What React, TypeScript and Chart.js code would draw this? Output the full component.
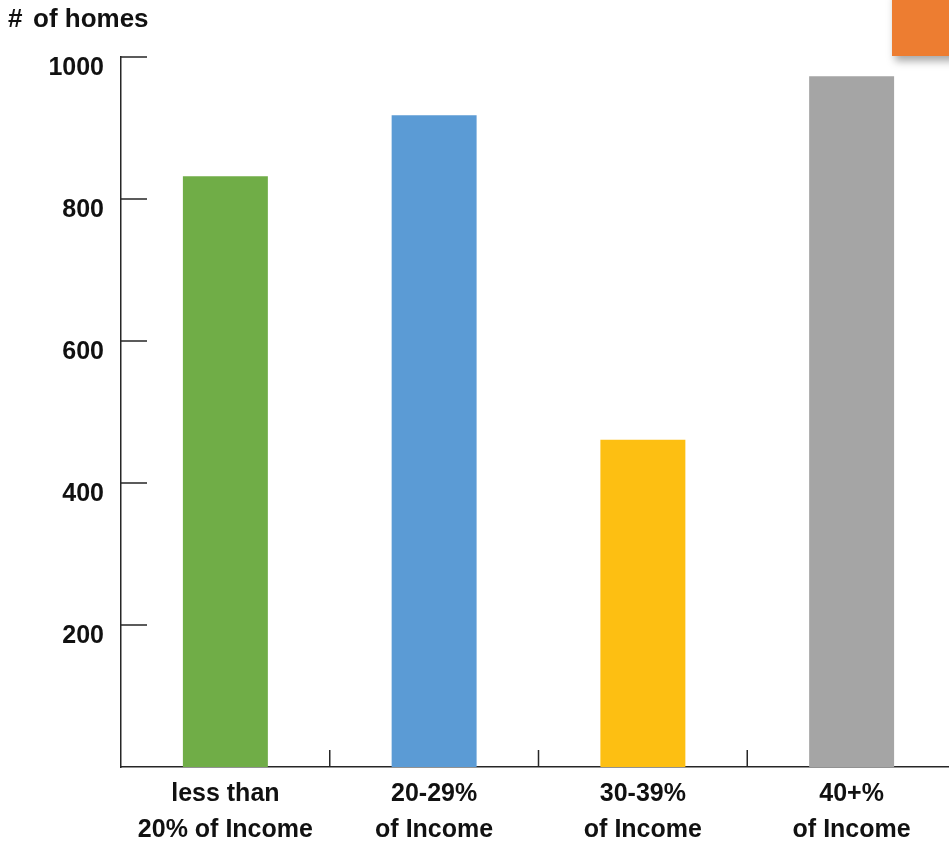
import React, { useEffect, useRef } from "react";
import { Chart, registerables } from "chart.js";

Chart.register(...registerables);

// Housing cost burden: number of homes by share of income spent on housing
const categories: string[][] = [
  ["less than", "20% of Income"],
  ["20-29%", "of Income"],
  ["30-39%", "of Income"],
  ["40+%", "of Income"],
];
const homes: number[] = [832, 918, 461, 973];
const barColors: string[] = ["#70AD47", "#5B9BD5", "#FDBF12", "#A5A5A5"];
const yTicks: number[] = [200, 400, 600, 800, 1000];
const axisTitle = "# of homes";

const FONT = "'Liberation Sans', Arial, sans-serif";
const AXIS_COLOR = "#262626";

// Inward tick marks on both axes, the axis title and the orange marker box.
const decorations = {
  id: "decorations",
  afterDraw(chart: Chart) {
    const ctx = chart.ctx;
    const area = chart.chartArea;
    const x = chart.scales.x;
    const y = chart.scales.y;
    ctx.save();
    ctx.strokeStyle = AXIS_COLOR;
    ctx.lineWidth = 1.5;
    ctx.beginPath();
    for (const v of yTicks) {
      const py = y.getPixelForValue(v);
      ctx.moveTo(area.left, py);
      ctx.lineTo(area.left + 26, py);
    }
    for (let i = 1; i < categories.length; i++) {
      const px = (x.getPixelForValue(i - 1) + x.getPixelForValue(i)) / 2;
      ctx.moveTo(px, area.bottom);
      ctx.lineTo(px, area.bottom - 17);
    }
    ctx.stroke();

    ctx.fillStyle = "#111";
    ctx.font = `bold 26px ${FONT}`;
    ctx.textAlign = "left";
    ctx.textBaseline = "middle";
    ctx.fillText("#", 8, 20);
    ctx.fillText(axisTitle.slice(1).trim(), 33, 20);

    ctx.shadowColor = "rgba(0,0,0,0.35)";
    ctx.shadowBlur = 8;
    ctx.shadowOffsetX = 3;
    ctx.shadowOffsetY = 5;
    ctx.fillStyle = "#ED7D31";
    ctx.fillRect(892, -10, 70, 66);
    ctx.restore();
  },
};

export default function App() {
  const canvasRef = useRef<HTMLCanvasElement | null>(null);

  useEffect(() => {
    document.body.style.margin = "0";
    const canvas = canvasRef.current;
    if (!canvas) return;
    const chart = new Chart(canvas, {
      type: "bar",
      data: {
        labels: categories,
        datasets: [
          {
            data: homes,
            backgroundColor: barColors,
            borderWidth: 0,
            barPercentage: 0.407,
            categoryPercentage: 1,
          },
        ],
      },
      options: {
        responsive: false,
        animation: false,
        layout: { padding: { top: 57, left: 0, right: 0, bottom: 0 } },
        plugins: {
          legend: { display: false },
          tooltip: { enabled: false },
        },
        scales: {
          x: {
            grid: { display: false, drawTicks: false },
            border: { display: true, color: AXIS_COLOR, width: 1.5 },
            ticks: {
              color: "#111",
              padding: 9,
              maxRotation: 0,
              autoSkip: false,
              font: { family: FONT, size: 25, weight: "bold", lineHeight: 1.44 },
            },
            afterFit(scale: any) {
              scale.height = 75;
            },
          },
          y: {
            min: 0,
            max: 1000,
            grid: { display: false, drawTicks: false },
            border: { display: true, color: AXIS_COLOR, width: 1.5 },
            ticks: {
              stepSize: 200,
              padding: 17,
              labelOffset: 11,
              color: "#111",
              font: { family: FONT, size: 25, weight: "bold" },
              callback: (v: any) => (yTicks.includes(Number(v)) ? String(v) : ""),
            },
            afterFit(scale: any) {
              scale.width = 121;
            },
          },
        },
      },
      plugins: [decorations],
    });
    return () => chart.destroy();
  }, []);

  return (
    <div style={{ position: "relative", width: 949, height: 842, overflow: "hidden", background: "#fff" }}>
      <canvas ref={canvasRef} width={956} height={842} style={{ display: "block" }} />
    </div>
  );
}
